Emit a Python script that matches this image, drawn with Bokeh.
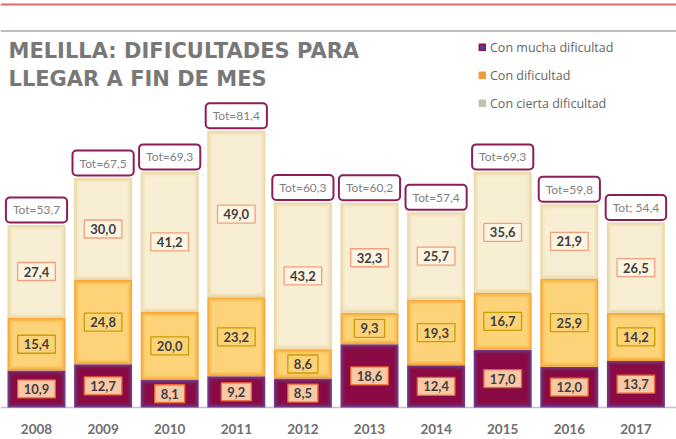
import numpy as np
from bokeh.plotting import figure
from bokeh.models import ColumnDataSource, Span, Label, Legend, LegendItem, Range1d
from bokeh.core.properties import value
from bokeh.embed import file_html
from bokeh.resources import INLINE

# ---------------- data ----------------
years = ["2008", "2009", "2010", "2011", "2012", "2013", "2014", "2015", "2016", "2017"]
mucha = [10.9, 12.7, 8.1, 9.2, 8.5, 18.6, 12.4, 17.0, 12.0, 13.7]
dificultad = [15.4, 24.8, 20.0, 23.2, 8.6, 9.3, 19.3, 16.7, 25.9, 14.2]
cierta = [27.4, 30.0, 41.2, 49.0, 43.2, 32.3, 25.7, 35.6, 21.9, 26.5]
total_labels = ["Tot=53,7", "Tot=67,5", "Tot=69,3", "Tot=81,4", "Tot=60,3",
                "Tot=60,2", "Tot=57,4", "Tot=69,3", "Tot=59,8", "Tot; 54,4"]
series_names = ["Con mucha dificultad", "Con dificultad", "Con cierta dificultad"]
title_lines = ["MELILLA: DIFICULTADES PARA", "LLEGAR A FIN DE MES"]

# ---------------- layout constants ----------------
W, H = 676, 439
BASE = 407      # pixel row of the baseline
PX = 3.40       # pixels per unit
X0 = 36         # pixel centre of first bar
DX = 66.6       # pixel spacing between bars
BAR_W = 58      # bar width in pixels


def dx(px):
    return (px - X0) / DX


def dy(py):
    return (BASE - py) / PX


p = figure(width=W, height=H, output_backend="svg", toolbar_location=None,
           x_axis_location=None, y_axis_location=None, title=None,
           x_range=Range1d(dx(0), dx(W)), y_range=Range1d(dy(H), dy(0)),
           min_border=0, outline_line_color=None,
           background_fill_color="white", border_fill_color="white")
p.grid.visible = False

xs = np.arange(len(years))
m = np.array(mucha)
d = np.array(dificultad)
c = np.array(cierta)
zeros = np.zeros(len(years))
tot = m + d + c

# baseline & decorative lines
p.add_layout(Span(location=0, dimension="width", line_color="#c4c4c4",
                  line_width=1.5, level="underlay"))
p.add_layout(Span(location=dy(30.5), dimension="width", line_color="#a8a8a8",
                  line_width=1.5))
p.add_layout(Span(location=dy(4), dimension="width", line_color="#e06a6a",
                  line_width=2))

# ---------------- bars with simulated gradient ----------------
seg_bounds = [(zeros, m), (m, m + d), (m + d, tot)]
seg_colors = [
    ["#70398a", "#7a2462", "#83134f", "#8a0a46"],
    ["#f6a83a", "#f9ba50", "#fbc864", "#fdd37a"],
    ["#ebd8a8", "#f0e1b9", "#f5e8c6", "#f8eed3"],
]
insets = [0, 1.5, 3, 4.5]
for (b, t), cols in zip(seg_bounds, seg_colors):
    for ins, col in zip(insets, cols):
        src = ColumnDataSource(dict(
            left=xs - (BAR_W / 2 - ins) / DX,
            right=xs + (BAR_W / 2 - ins) / DX,
            bottom=b + ins / PX,
            top=t - ins / PX,
        ))
        p.quad(left="left", right="right", bottom="bottom", top="top",
               source=src, fill_color=col, line_color=None)


def fmt(v):
    return f"{v:.1f}".replace(".", ",")


label_styles = [
    dict(background_fill_color="#f9c8a6", border_line_color="#e8622e"),
    dict(background_fill_color=None, border_line_color="#c4a000"),
    dict(background_fill_color="#fdf4e2", border_line_color="#f2a07c"),
]
for (b, t), vals, st in zip(seg_bounds, [m, d, c], label_styles):
    src = ColumnDataSource(dict(x=xs, y=(b + t) / 2, text=[fmt(v) for v in vals]))
    p.text(x="x", y="y", text="text", source=src, text_align="center",
           text_baseline="middle", text_font=value("Lato"),
           text_font_style="bold", text_font_size="13px", text_color="#3f3f3f",
           border_line_width=1.3,
           padding=dict(left=6, right=6, top=4, bottom=4), **st)

# totals
src_tot = ColumnDataSource(dict(x=xs, y=tot, text=total_labels))
p.text(x="x", y="y", text="text", source=src_tot, text_align="center",
       text_baseline="middle", y_offset=-15, text_font=value("Lato"),
       text_font_size="12px", text_color="#7f7f7f",
       background_fill_color="white", border_line_color="#8c1d55",
       border_line_width=2, border_radius=4,
       padding=dict(left=7, right=7, top=5, bottom=5))

# year labels
src_years = ColumnDataSource(dict(x=xs, y=zeros, text=years))
p.text(x="x", y="y", text="text", source=src_years, text_align="center",
       text_baseline="middle", y_offset=21, text_font=value("Lato"),
       text_font_style="bold", text_font_size="13.5px", text_color="#6e6e6e")

# title
for i, line in enumerate(title_lines):
    p.add_layout(Label(x=dx(8), y=dy(50 + 28 * i), text=line,
                       text_font="DejaVu Sans", text_font_style="bold",
                       text_font_size="21px", text_color="#787878",
                       text_baseline="middle", text_align="left"))

# legend (proxy glyphs, not drawn in the plot area)
leg_fill = ["#5a3c8e", "#f39a3a", "#c0c0b4"]
leg_line = ["#8c1050", "#f39a3a", "#c0c0b4"]
items = []
for name, fc, lc in zip(series_names, leg_fill, leg_line):
    proxy = ColumnDataSource(dict(left=[np.nan], right=[np.nan],
                                  top=[np.nan], bottom=[np.nan]))
    r = p.quad(left="left", right="right", top="top", bottom="bottom",
               source=proxy, fill_color=fc, line_color=lc, line_width=1.5)
    items.append(LegendItem(label=name, renderers=[r]))
legend = Legend(items=items, location=(478, H - 37 - 76), glyph_width=8,
                glyph_height=8, label_standoff=4, label_height=20, spacing=8,
                padding=0, margin=0, border_line_color=None,
                background_fill_alpha=0, label_text_font="Open Sans",
                label_text_font_size="12.5px", label_text_color="#666666")
p.add_layout(legend)

open("out.html", "w").write(file_html(p, INLINE))
